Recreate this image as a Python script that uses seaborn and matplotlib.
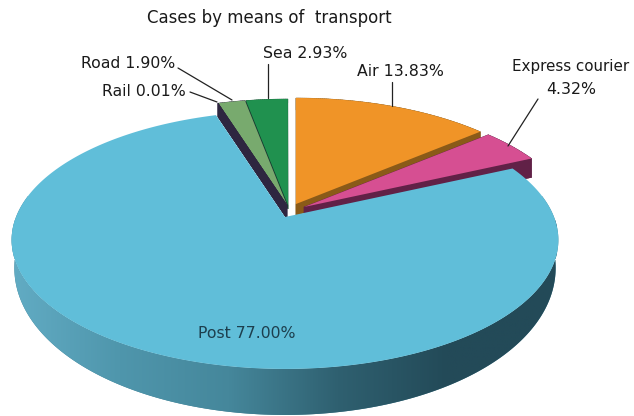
"""Cases by means of transport: tilted 3D pie drawn with a perspective mapping."""
import numpy as np
import matplotlib.pyplot as plt
import seaborn as sns

# data, clockwise from twelve o'clock
labels = ["Air", "Express courier", "Post", "Rail", "Road", "Sea"]
shares = [13.83, 4.32, 77.00, 0.01, 1.90, 2.93]

top_cols = ["#f09427", "#d64f92", "#60bed9", "#2e2640", "#78aa6e", "#20914f"]
side_cols = ["#8a5a18", "#612147", "#60bed9", "#2e2640", "#2e2640", "#0f4a2c"]
# apex of each slice in pixels, the small slices are pulled out of the pie
apex = [(296, 204), (304, 207), (285, 217), (287, 205), (287, 205), (288, 205)]
depth = [12, 19, 0, 14, 14, 4]

# perspective of the disc, fitted to the outline of the big slice
A, B, P = 269.0, 124.9, 0.178


def project(deg, r=1.0):
    t = np.radians(deg)
    x, y = r * np.cos(t), r * np.sin(t)
    w = 1 + P * y
    return A * x / w, -B * y / w


def wedge_xy(t1, t2, origin):
    ts = np.linspace(t1, t2, max(int(abs(t2 - t1) * 2), 4))
    x, y = project(ts)
    return np.r_[origin[0], origin[0] + x], np.r_[origin[1], origin[1] + y]


def draw_side(ax, i, t1, t2):
    x, y = wedge_xy(t1, t2, apex[i])
    ax.fill(x, y + depth[i], color=side_cols[i], lw=0)
    # join top and bottom along the cut edges and the rim
    for k in range(len(x)):
        j = (k + 1) % len(x)
        ax.fill([x[k], x[j], x[j], x[k]],
                [y[k], y[j], y[j] + depth[i], y[k] + depth[i]],
                color=side_cols[i], lw=0.3)


def draw_top(ax, i, t1, t2, **kw):
    x, y = wedge_xy(t1, t2, apex[i])
    ax.fill(x, y, color=top_cols[i], lw=0, **kw)


sns.set_theme(style="white")
plt.rcParams["font.family"] = ["DejaVu Sans"]

fig, ax = plt.subplots(figsize=(6.34, 4.16), dpi=100)
fig.subplots_adjust(0, 0, 1, 1)

ends = 90 - np.cumsum(np.array(shares) * 3.6)
starts = np.r_[90, ends[:-1]]

# back slices first, each one covers the cut side of its neighbour
draw_side(ax, 0, starts[0], ends[0])
draw_side(ax, 1, starts[1], ends[1])
draw_top(ax, 1, starts[1], ends[1])
draw_top(ax, 0, starts[0], ends[0])
for i in [5, 4, 3]:
    draw_side(ax, i, starts[i], ends[i])
    draw_top(ax, i, starts[i], ends[i])

# rim of the big slice with its horizontal shading
cx, cy = apex[2]
ts = np.linspace(170, 370, 300)
xt, yt = project(ts)
rim_depth = 24 - 22 * np.sin(np.radians(ts))
rim_x = cx + np.r_[xt, 0.99 * xt[::-1]]
rim_y = cy + np.r_[yt, (yt + rim_depth)[::-1]]
rim = ax.fill(rim_x, rim_y, color="#3f7f92", lw=0)[0]

shade = sns.blend_palette(["#62acc4", "#4f96ac", "#45879b", "#2f6070", "#234a58", "#234a58"],
                          as_cmap=True)
img = ax.imshow(np.linspace(0, 1, 256)[None, :], cmap=shade, aspect="auto",
                extent=(10, 557, 416, 220), zorder=rim.get_zorder())
img.set_clip_path(rim)

draw_top(ax, 2, ends[1], ends[2], zorder=3)

ax.set_xlim(0, 634)
ax.set_ylim(416, 0)
ax.axis("off")

# leader lines and labels
leaders = [((268, 64), (268, 98)), ((392, 82), (392, 106)), ((538, 99), (508, 146)),
           ((178, 68), (232, 100)), ((190, 92), (217, 102))]
for a, b in leaders:
    ax.plot([a[0], b[0]], [a[1], b[1]], color="#222222", lw=0.9, zorder=4)

txt = dict(fontsize=11.3, color="#1a1a1a", ha="center", va="center", zorder=5)
ax.text(305, 53, f"Sea {shares[5]:.2f}%", **txt)
ax.text(400, 71, f"Air {shares[0]:.2f}%", **txt)
ax.text(571, 66, labels[1], **{**txt, "fontsize": 10.9})
ax.text(571, 89, f"{shares[1]:.2f}%", **txt)
ax.text(128, 63, f"Road {shares[4]:.2f}%", **txt)
ax.text(144, 91, f"Rail {shares[3]:.2f}%", **txt)
ax.text(247, 334, f"Post {shares[2]:.2f}%", **{**txt, "color": "#1d3f4e"})
ax.text(269, 18, "Cases by means of  transport", fontsize=12, color="#1a1a1a",
        ha="center", va="center", zorder=5)

fig.savefig("out.png", dpi=100)
